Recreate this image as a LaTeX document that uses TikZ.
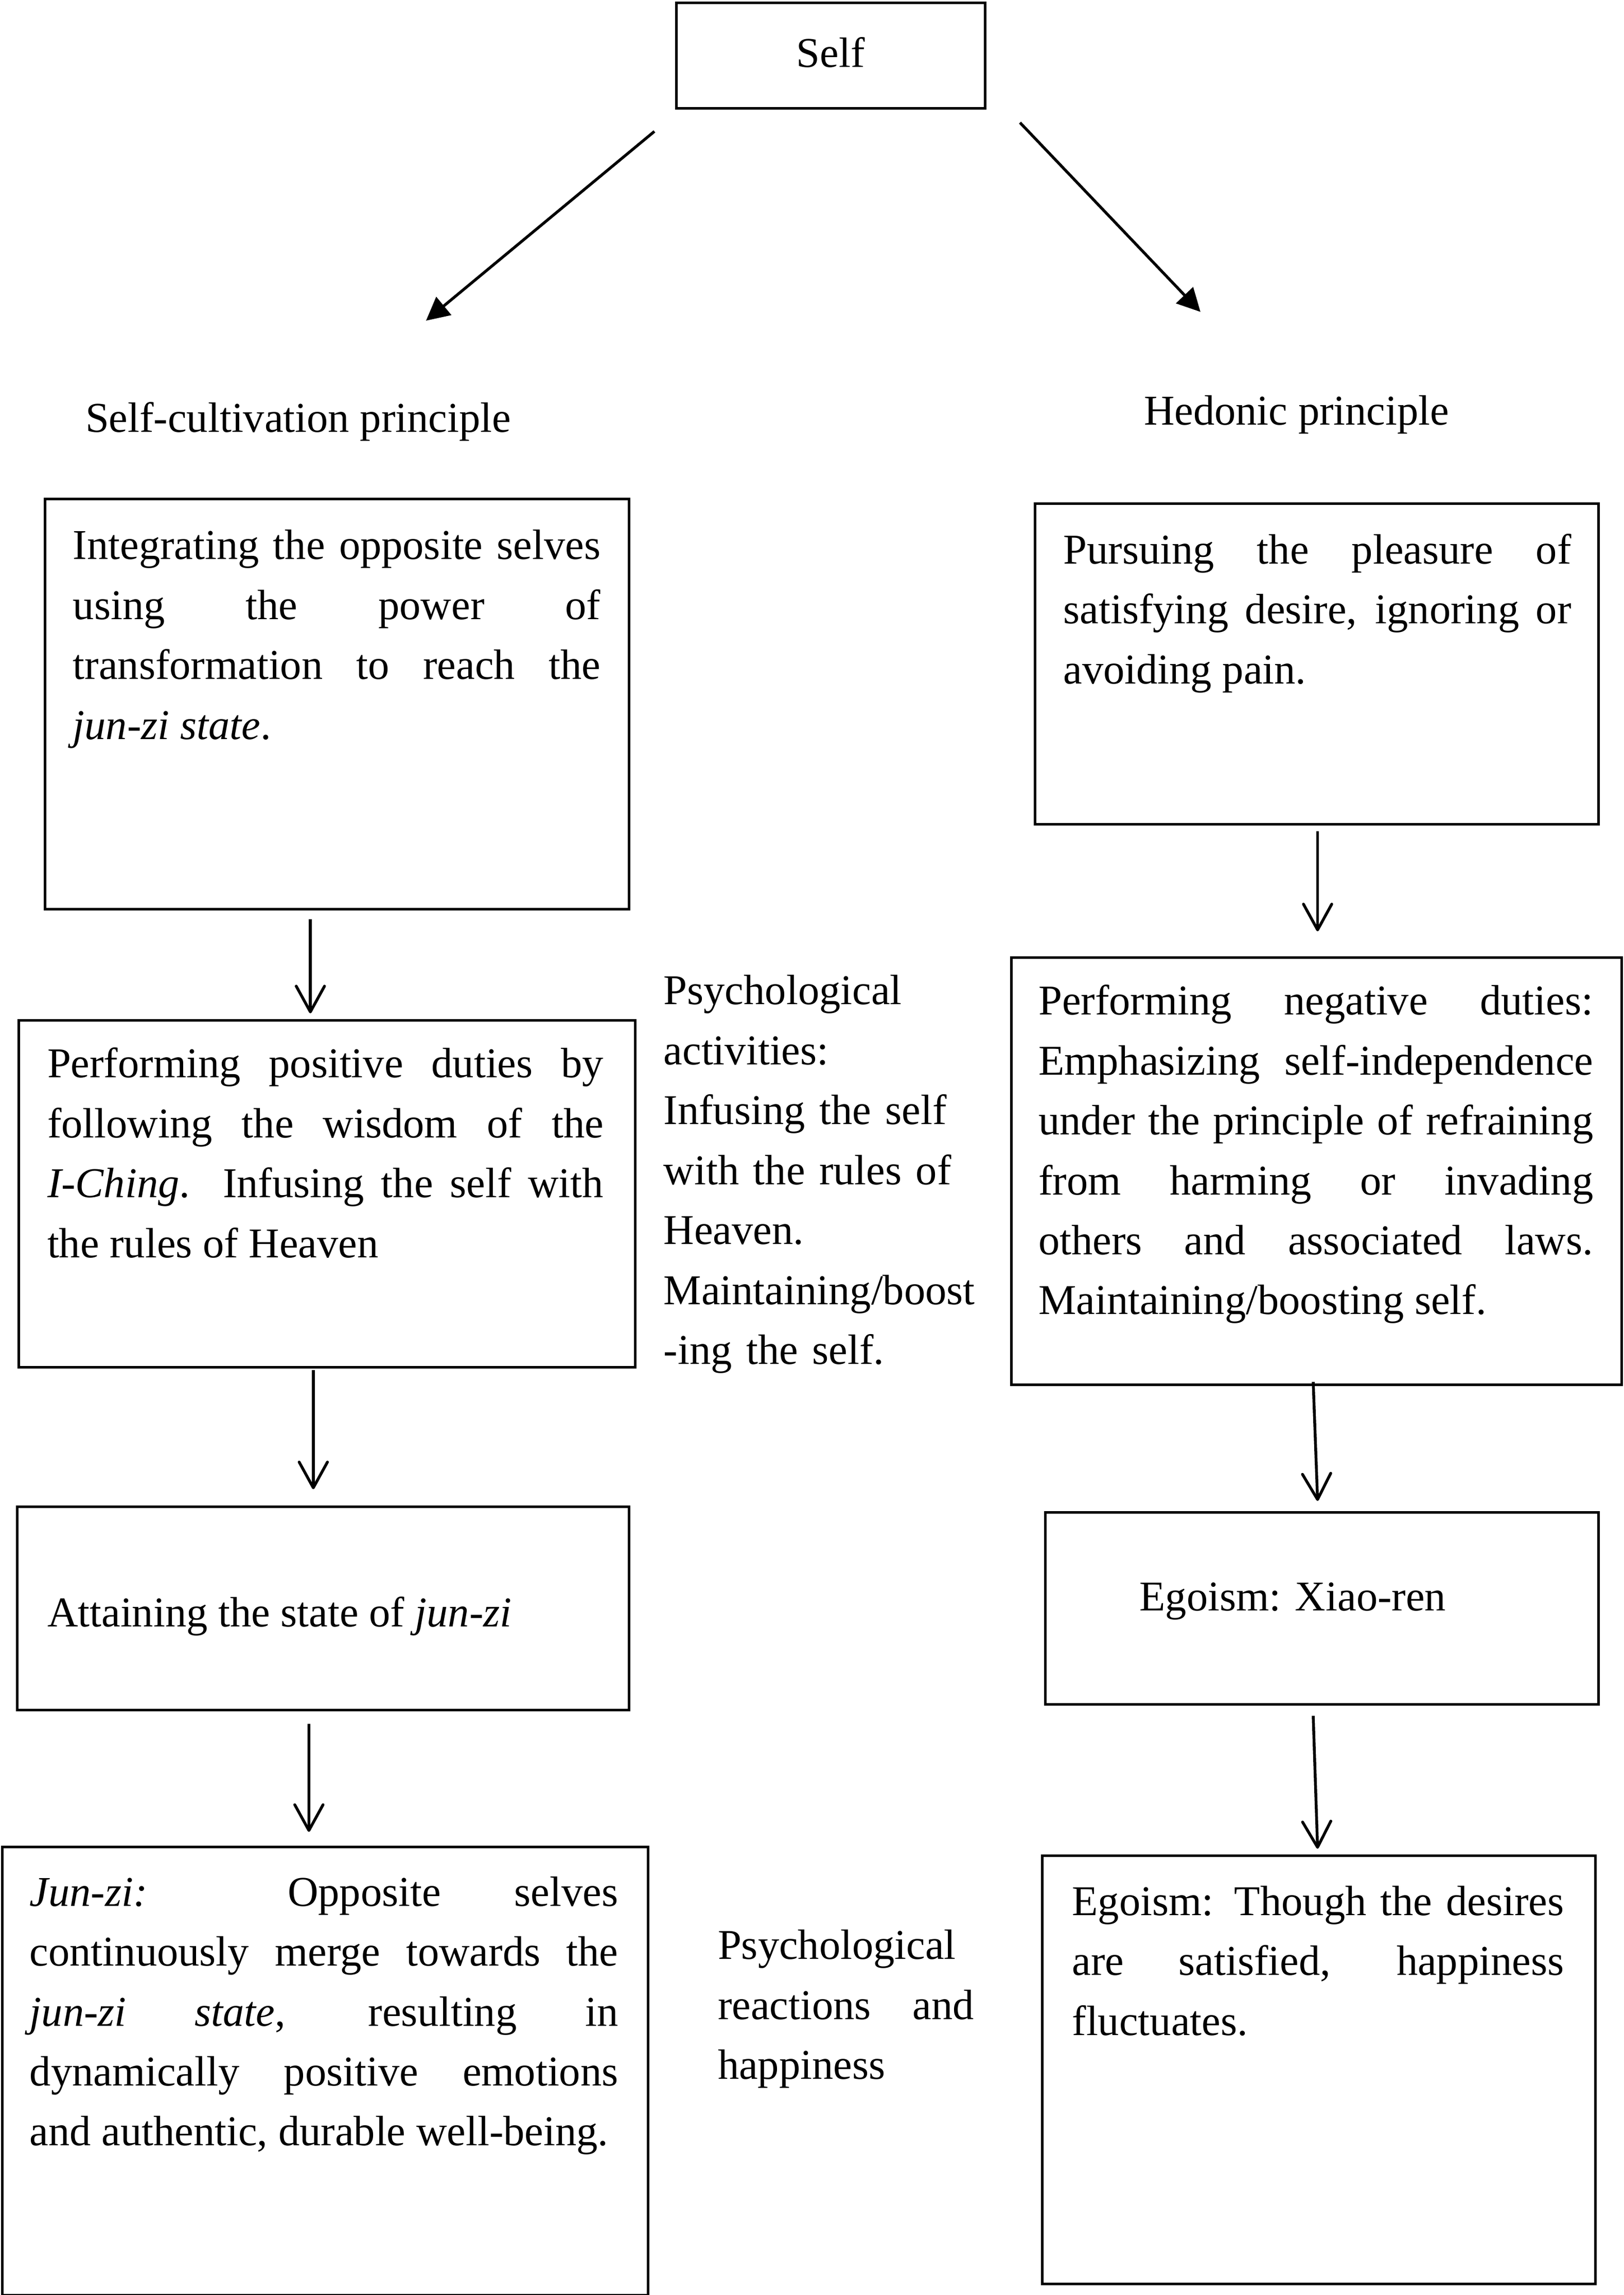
\documentclass[tikz,border=0pt]{standalone}
\usepackage{fontspec}
\setmainfont{Liberation Serif}
\usetikzlibrary{arrows.meta}
\tolerance=10000
\hbadness=10000
\hyphenpenalty=10000
\exhyphenpenalty=10000

\begin{document}
\begin{tikzpicture}[x=0.02cm, y=-0.02cm,
        font=\fontsize{16.5}{23.3}\selectfont,
        box/.style={draw, line width=1pt, inner sep=0pt, anchor=north west},
        txt/.style={inner sep=0pt, anchor=base west, align=justify},
        down/.style={line width=1.1pt, -{Straight Barb[round, length=10pt, width=11pt]}},
        split/.style={line width=1.1pt, -{Triangle[length=9pt, width=9pt]}}]
        \useasboundingbox (0, 0) rectangle (1109, 1567.3);
        % top
        \node[box, minimum width=4.22cm, minimum height=1.44cm] (self) at (461, 1) {\raisebox{2.5pt}{Self}};
        \node[inner sep=0pt, anchor=base west] (cult) at (58, 295) {Self-cultivation principle};
        \node[inner sep=0pt, anchor=base west] (hedo) at (781, 290) {Hedonic principle};
        \draw[split] ([shift={(-14, 15)}]self.south west) -- ([shift={(233, -76)}]cult.base west);
        \draw[split] ([shift={(23, 9)}]self.south east) -- ([shift={(39, -77)}]hedo.base west);
        % left column
        \node[box, minimum width=7.98cm, minimum height=5.6cm] (a1) at (30, 340) {};
        \node[txt, text width=7.21cm] (a1t) at ([shift={(19.5, 42)}]a1.north west) {Integrating the opposite selves\linebreak using the power of\linebreak transformation to reach the\linebreak \textit{jun-zi state}.};
        \node[box, minimum width=8.42cm, minimum height=4.74cm] (a2) at (12, 696) {};
        \node[txt, text width=7.6cm] (a2t) at ([shift={(20, 40)}]a2.north west) {Performing positive duties by\linebreak following the wisdom of the\linebreak \textit{I-Ching}. Infusing the self with\linebreak the rules of Heaven};
        \node[box, minimum width=8.36cm, minimum height=2.78cm] (a3) at (11, 1028) {};
        \node[inner sep=0pt, anchor=base west] (a3t) at ([shift={(21, 83)}]a3.north west) {Attaining the state of \textit{jun-zi}};
        \node[box, minimum width=8.828cm, minimum height=6.12cm] (a4) at (0.6, 1260.5) {};
        \node[txt, text width=8.04cm] (a4t) at ([shift={(19.4, 41.1)}]a4.north west) {\textit{Jun-zi:} Opposite selves\linebreak continuously merge towards the\linebreak \textit{jun-zi state}, resulting in\linebreak dynamically positive emotions\linebreak and authentic, durable well-being.};
        \draw[down] ([shift={(182, 6)}]a1.south west) -- ([shift={(200, -4)}]a2.north west);
        \draw[down] ([shift={(202, 1)}]a2.south west) -- ([shift={(203, -11)}]a3.north west);
        \draw[down] ([shift={(200, 8.5)}]a3.south west) -- ([shift={(210.4, -9.5)}]a4.north west);
        % middle notes
        \node[inner sep=0pt, anchor=base west, text width=4.4cm, align=left] (acts) at (453, 686) {Psychological\\ activities:\\ Infusing the self\\ with the rules of\\ Heaven.\\ Maintaining/boost\\ -ing the self.};
        \node[txt, text width=3.5cm] (reac) at (490, 1338) {Psychological\linebreak reactions and\linebreak happiness};
        % right column
        \node[box, minimum width=7.7cm, minimum height=4.38cm] (b1) at (706, 343) {};
        \node[txt, text width=6.94cm] (b1t) at ([shift={(20, 42)}]b1.north west) {Pursuing the pleasure of\linebreak satisfying desire, ignoring or\linebreak avoiding pain.};
        \node[box, minimum width=8.34cm, minimum height=5.84cm] (b2) at (690, 653) {};
        \node[txt, text width=7.58cm] (b2t) at ([shift={(19, 40)}]b2.north west) {Performing negative duties:\linebreak Emphasizing self-independence\linebreak under the principle of refraining\linebreak from harming or invading\linebreak others and associated laws.\linebreak Maintaining/boosting self.};
        \node[box, minimum width=7.56cm, minimum height=2.62cm] (b3) at (713, 1032) {};
        \node[inner sep=0pt, anchor=base west] (b3t) at ([shift={(65, 68)}]b3.north west) {Egoism: Xiao-ren};
        \node[box, minimum width=7.56cm, minimum height=5.85cm] (b4) at (711, 1266.5) {};
        \node[txt, text width=6.72cm] (b4t) at ([shift={(21, 41.5)}]b4.north west) {Egoism: Though the desires\linebreak are satisfied, happiness\linebreak fluctuates.};
        \draw[down] ([shift={(194, 4)}]b1.south west) -- ([shift={(210, -17)}]b2.north west);
        \draw[down] ([shift={(207, -3)}]b2.south west) -- ([shift={(187, -7)}]b3.north west);
        \draw[down] ([shift={(184, 7)}]b3.south west) -- ([shift={(189, -4)}]b4.north west);
\end{tikzpicture}
\end{document}
